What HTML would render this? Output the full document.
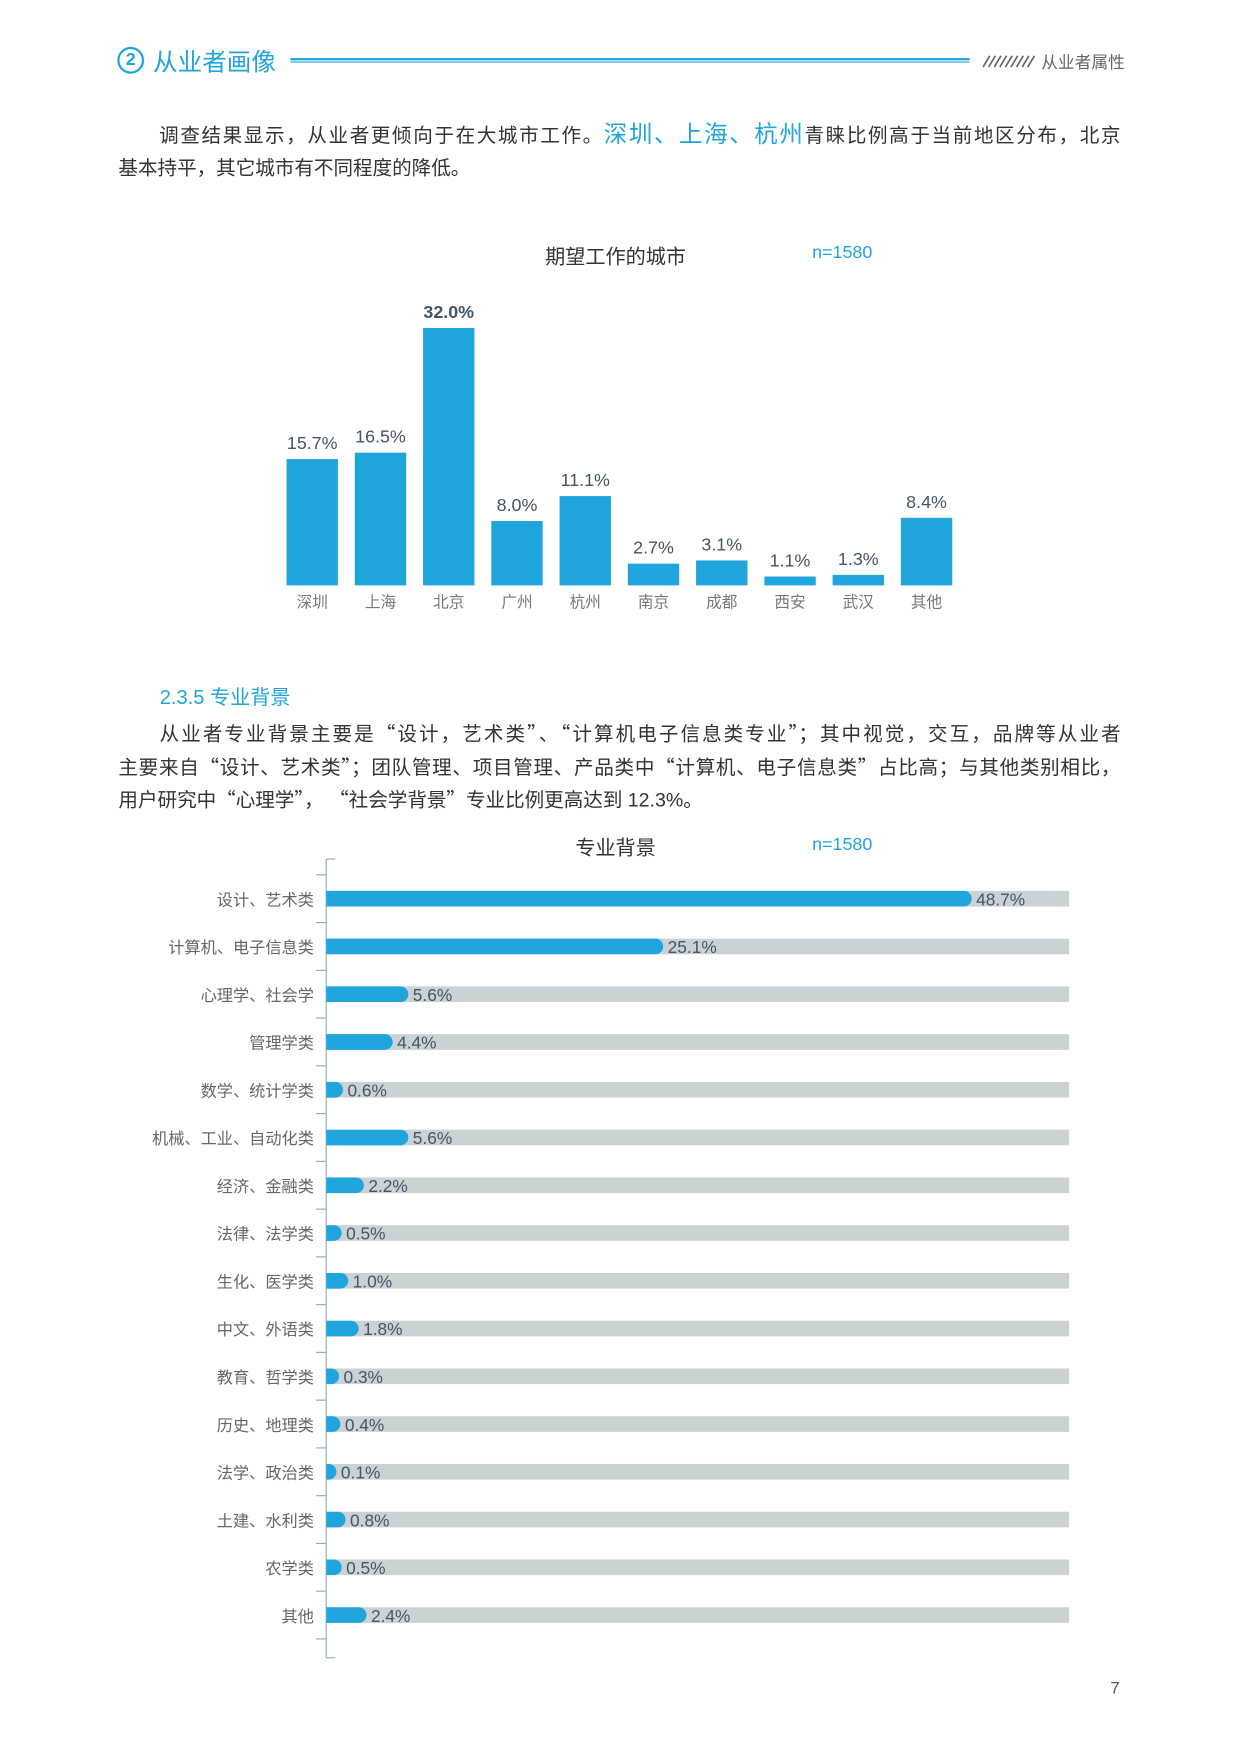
<!DOCTYPE html>
<html><head><meta charset="utf-8"><style>
body{margin:0;width:1240px;height:1754px;overflow:hidden;background:#fff;font-family:"Liberation Sans","Noto Sans CJK SC",sans-serif}
#pg{position:absolute;left:0;top:0;width:1110px;height:1570px;transform:scale(1.11712);transform-origin:0 0}
.a{position:absolute;white-space:nowrap}
.ln{position:absolute;left:106px;width:897px;font-size:17.5px;color:#333;text-align:justify;text-align-last:justify;white-space:nowrap}
.b{color:#20a4dc;font-size:21px}
.q{font-family:"Noto Sans CJK SC",sans-serif}
</style></head><body><div id="pg">
<div class="a" style="left:105px;top:42px;width:20px;height:20px;border:2px solid #20a4dc;border-radius:50%;color:#20a4dc;font-size:16px;font-weight:bold;text-align:center;line-height:20px">2</div>
<div class="a" style="left:137px;top:38px;font-size:22px;color:#20a4dc">从业者画像</div>
<div class="a" style="left:260px;top:52px;width:608px;height:4px;border-top:2px solid #20a4dc;border-bottom:1px solid #20a4dc;box-sizing:border-box"></div>
<svg class="a" style="left:878px;top:49px" width="50" height="12">
<g stroke="#666" stroke-width="1.5"><line x1="2" y1="11" x2="8" y2="1"/><line x1="7" y1="11" x2="13" y2="1"/><line x1="12" y1="11" x2="18" y2="1"/><line x1="17" y1="11" x2="23" y2="1"/><line x1="22" y1="11" x2="28" y2="1"/><line x1="27" y1="11" x2="33" y2="1"/><line x1="32" y1="11" x2="38" y2="1"/><line x1="37" y1="11" x2="43" y2="1"/><line x1="42" y1="11" x2="48" y2="1"/></g></svg>
<div class="a" style="left:932px;top:45px;font-size:15px;color:#666">从业者属性</div>
<div>
<div class="ln" style="top:104px">&emsp;&emsp;调查结果显示，从业者更倾向于在大城市工作。<span class="b">深圳、上海、杭州</span>青睐比例高于当前地区分布，北京</div>
<div class="ln" style="top:137px;text-align-last:left">基本持平，其它城市有不同程度的降低。</div>
</div>

<div class="a" style="left:488px;top:216px;font-size:18px;color:#333">期望工作的城市</div>
<div class="a" style="left:727px;top:218px;font-size:16px;color:#20a4dc">n=1580</div>
<svg class="a" id="c1" style="left:0;top:0" width="1110" height="560"></svg>

<div class="a" style="left:143px;top:610px;font-size:18px;color:#20a4dc">2.3.5 专业背景</div>
<div>
<div class="ln" style="top:644px">&emsp;&emsp;从业者专业背景主要是<span class="q">“</span>设计，艺术类<span class="q">”</span>、<span class="q">“</span>计算机电子信息类专业<span class="q">”</span>；其中视觉，交互，品牌等从业者</div>
<div class="ln" style="top:674px">主要来自<span class="q">“</span>设计、艺术类<span class="q">”</span>；团队管理、项目管理、产品类中<span class="q">“</span>计算机、电子信息类<span class="q">”</span>占比高；与其他类别相比，</div>
<div class="ln" style="top:703px;text-align-last:left">用户研究中<span class="q">“</span>心理学<span class="q">”</span>，&nbsp;<span class="q">“</span>社会学背景<span class="q">”</span>专业比例更高达到 12.3%。</div>
</div>
<div class="a" style="left:515px;top:745px;font-size:18px;color:#333">专业背景</div>
<div class="a" style="left:727px;top:748px;font-size:16px;color:#20a4dc">n=1580</div>
<svg class="a" id="c2" style="left:0;top:0" width="1110" height="1500"></svg>
<div class="a" style="left:994px;top:1503px;font-size:15px;color:#555">7</div>
</div>
<script>
const cities=["深圳","上海","北京","广州","杭州","南京","成都","西安","武汉","其他"];
const cityVals=[15.7,16.5,32.0,8.0,11.1,2.7,3.1,1.1,1.3,8.4];
const majors=["设计、艺术类","计算机、电子信息类","心理学、社会学","管理学类","数学、统计学类","机械、工业、自动化类","经济、金融类","法律、法学类","生化、医学类","中文、外语类","教育、哲学类","历史、地理类","法学、政治类","土建、水利类","农学类","其他"];
const majorVals=[48.7,25.1,5.6,4.4,0.6,5.6,2.2,0.5,1.0,1.8,0.3,0.4,0.1,0.8,0.5,2.4];
const NS="http://www.w3.org/2000/svg";
function mk(svg,t,at,txt){const e=document.createElementNS(NS,t);for(const k in at)e.setAttribute(k,at[k]);if(txt!=null)e.textContent=txt;svg.appendChild(e);return e;}
const s1=document.getElementById('c1');
const base=524,xc=i=>279.5+i*61.1,yh=v=>v*7.2;
cities.forEach((c,i)=>{
 const r=mk(s1,'rect',{x:xc(i)-23,y:base-yh(cityVals[i]),width:46,height:yh(cityVals[i]),fill:'#20a4dc'});
 
 
 const t=mk(s1,'text',{x:xc(i),y:base-yh(cityVals[i])-9,'text-anchor':'middle','font-size':16,fill:'#445566','font-weight':i==2?'bold':'normal'},cityVals[i].toFixed(1)+'%');
 
 
 const l=mk(s1,'text',{x:xc(i),y:544,'text-anchor':'middle','font-size':14,fill:'#777'},c);
 
 
});
const s2=document.getElementById('c2');
const x0=292,yc=i=>804.5+i*42.75,xl=v=>x0+8+v*11.7;
mk(s2,'line',{x1:x0,y1:769,x2:x0,y2:1484,stroke:'#8aabbb','stroke-width':1});
mk(s2,'line',{x1:x0,y1:769,x2:x0+8,y2:769,stroke:'#8aabbb'});
mk(s2,'line',{x1:x0,y1:1484,x2:x0+8,y2:1484,stroke:'#8aabbb'});
for(let i=0;i<=majors.length;i++){mk(s2,'line',{x1:x0-9,y1:yc(i)-21.4,x2:x0,y2:yc(i)-21.4,stroke:'#8aabbb'});}
majors.forEach((m,i)=>{
 const y=yc(i);
 const tr=mk(s2,'rect',{x:x0,y:y-7,width:957-x0,height:14,fill:'#cbd2d5'});
 
 
 const e=xl(majorVals[i]);
 const b=mk(s2,'path',{d:`M${x0} ${y-7}H${e-7}A7 7 0 0 1 ${e-7} ${y+7}H${x0}Z`,fill:'#20a4dc'});
 
 
 const t=mk(s2,'text',{x:e+4,y:y+6,'font-size':15.5,fill:'#445566'},majorVals[i].toFixed(1)+'%');
 
 
 const l=mk(s2,'text',{x:281,y:y+6,'text-anchor':'end','font-size':14.5,fill:'#666'},m);
 
 
});
</script>
</body></html>
